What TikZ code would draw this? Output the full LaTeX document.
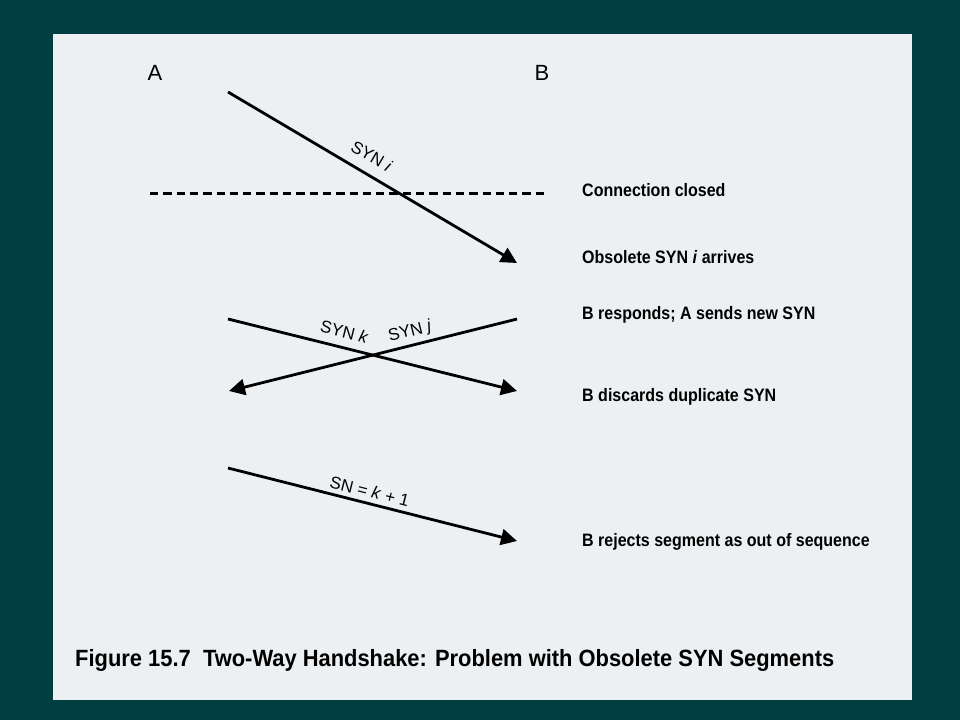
\documentclass[tikz,border=0pt]{standalone}
\usepackage{fontspec}
\setmainfont{Liberation Sans}
\newfontfamily\notefont{Liberation Sans}[FakeStretch=0.89]
\newfontfamily\capfont{Liberation Sans}[FakeStretch=0.932]
\usetikzlibrary{arrows.meta}
\definecolor{slidebg}{HTML}{003F41}
\definecolor{panelbg}{HTML}{EDF0F2}

\begin{document}
\begin{tikzpicture}[line join=round,>={Triangle[length=16pt,width=16pt]},x=1pt,y=-1pt,
    msg/.style={line width=2.8pt},
    msglabel/.style={font=\fontsize{17}{17}\selectfont,sloped,anchor=base,inner sep=0pt},
    note/.style={anchor=base west,inner sep=0pt,font=\notefont\bfseries\fontsize{18}{18}\selectfont},
    host/.style={anchor=base,inner sep=0pt,font=\fontsize{22}{22}\selectfont}]
    \useasboundingbox (0,0) rectangle (960,720);
    \fill[slidebg] (0,0) rectangle (960,720);
    \fill[panelbg] (53,34) rectangle (912,700);
    % hosts
    \node[host] (hA) at (155,80) {A};
    \node[host] (hB) at (542,80) {B};
    % end points of the segments
    \coordinate (i1) at (228,92);
    \coordinate (i2) at (517,263);
    \coordinate (c1) at (150,193.5);
    \coordinate (c2) at (547,193.5);
    \coordinate (k1) at (228,319);
    \coordinate (k2) at (517,391);
    \coordinate (j1) at (517,319);
    \coordinate (j2) at (229,391);
    \coordinate (s1) at (228,468);
    \coordinate (s2) at (517,541);
    \draw[line width=3pt,dash pattern=on 8.3pt off 5pt] (c1) -- (c2);
    \draw[msg,->] (i1) -- node[msglabel,pos=0.465,yshift=12pt] {SYN \textit{i}} (i2);
    \draw[msg,->] (k1) -- node[msglabel,pos=0.39,yshift=9.5pt] {SYN \textit{k}} (k2);
    \draw[msg,<-] (j2) -- node[msglabel,pos=0.64,yshift=9pt] {SYN \textit{j}} (j1);
    \draw[msg,->] (s1) -- node[msglabel,pos=0.48,yshift=6pt] {SN = \textit{k} + 1} (s2);
    % events at B
    \node[note] (n1) at (582,196) {Connection closed};
    \node[note] (n2) at (582,263) {Obsolete SYN \textit{i} arrives};
    \node[note] (n3) at (582,319) {B responds; A sends new SYN};
    \node[note] (n4) at (582,401) {B discards duplicate SYN};
    \node[note] (n5) at (582,546) {B rejects segment as out of sequence};
    \node[anchor=base west,inner sep=0pt,font=\capfont\bfseries\fontsize{23.5}{23.5}\selectfont] (cap) at (75,666)
        {Figure 15.7\ \ Two-Way Handshake: Problem with Obsolete SYN Segments};
\end{tikzpicture}
\end{document}
